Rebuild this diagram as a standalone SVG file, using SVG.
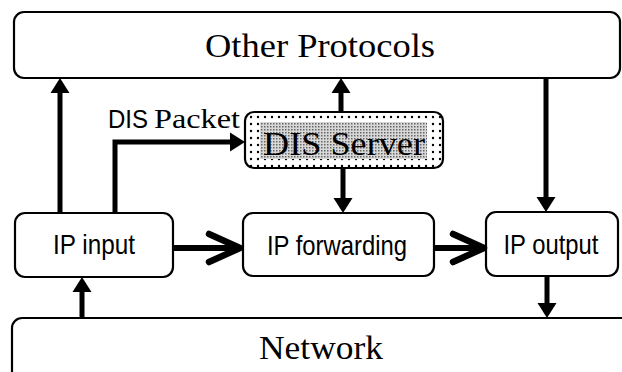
<svg xmlns="http://www.w3.org/2000/svg" width="622" height="372" viewBox="0 0 622 372">
<style>
.box{fill:#fff;stroke:#000;stroke-width:2.2}
.serif{font-family:"Liberation Serif","Times New Roman",serif;fill:#000}
.sans{font-family:"Liberation Sans",Arial,sans-serif;fill:#000}
.lbl{font-family:"Liberation Sans",Arial,sans-serif;font-size:28px;text-anchor:middle;fill:#000}
.big{font-family:"Liberation Serif","Times New Roman",serif;font-size:34px;text-anchor:middle;fill:#000}
.wire{fill:none;stroke:#000;stroke-width:5}
.wire-t{fill:none;stroke:#000;stroke-width:5;marker-end:url(#tri)}
.wire-c{fill:none;stroke:#000;stroke-width:6;marker-end:url(#chev)}
</style>
<defs>
<marker id="tri" markerUnits="userSpaceOnUse" viewBox="0 -10 15 20" refX="0" refY="0" markerWidth="15" markerHeight="20" orient="auto">
<path d="M0,-9.5 L15,0 L0,9.5 z" fill="#000"/>
</marker>
<marker id="chev" markerUnits="userSpaceOnUse" viewBox="-40 -20 44 40" refX="0" refY="0" markerWidth="44" markerHeight="40" orient="auto">
<path d="M-31,-14 L0,0 L-31,14" fill="none" stroke="#000" stroke-width="6.5" stroke-linecap="round" stroke-linejoin="round"/>
</marker>
<pattern id="dots" patternUnits="userSpaceOnUse" x="249" y="115" width="7" height="7">
<circle cx="2" cy="2" r="1.2" fill="#000"/>
</pattern>
<pattern id="half" patternUnits="userSpaceOnUse" width="3" height="3">
<rect width="3" height="3" fill="#d8d8d8"/>
<rect width="1.5" height="1.5" fill="#666"/>
</pattern>
</defs>

<g id="other-protocols">
<rect class="box" x="14" y="12" width="606" height="66" rx="10"/>
<text class="big" x="320" y="57" textLength="230" lengthAdjust="spacingAndGlyphs">Other Protocols</text>
</g>

<g id="network">
<rect class="box" x="12" y="318" width="640" height="90" rx="10"/>
<text class="big" x="321" y="359" textLength="124" lengthAdjust="spacingAndGlyphs">Network</text>
</g>

<g id="dis-server">
<rect x="245" y="112" width="198" height="56" rx="9" fill="#fff" stroke="none"/>
<rect x="245" y="112" width="198" height="56" rx="9" fill="url(#dots)" stroke="#000" stroke-width="2.2"/>
<rect x="260" y="122" width="167" height="37" fill="url(#half)"/>
<text class="big" x="344" y="155" font-size="35" textLength="162" lengthAdjust="spacingAndGlyphs">DIS Server</text>
</g>

<g id="ip-input">
<rect class="box" x="15" y="213" width="158" height="64" rx="10"/>
<text class="lbl" x="94" y="254" textLength="82" lengthAdjust="spacingAndGlyphs">IP input</text>
</g>

<g id="ip-forwarding">
<rect class="box" x="243" y="213" width="191" height="63" rx="10"/>
<text class="lbl" x="337" y="255" textLength="140" lengthAdjust="spacingAndGlyphs">IP forwarding</text>
</g>

<g id="ip-output">
<rect class="box" x="486" y="212" width="132" height="64" rx="10"/>
<text class="lbl" x="551" y="254" textLength="95" lengthAdjust="spacingAndGlyphs">IP output</text>
</g>

<g id="connectors">
<path class="wire-t" d="M60,213 V93"/>
<path class="wire-t" d="M115,213 V142 H230"/>
<text class="sans" x="108" y="128" font-size="25" textLength="40" lengthAdjust="spacingAndGlyphs">DIS</text>
<text class="serif" x="154" y="128" font-size="28" textLength="86" lengthAdjust="spacingAndGlyphs">Packet</text>
<path class="wire-t" d="M341,112 V93"/>
<path class="wire-t" d="M343,168 V198"/>
<path class="wire-t" d="M546,78 V197"/>
<path class="wire-c" d="M173,248 H240"/>
<path class="wire-c" d="M434,248 H484"/>
<path class="wire-t" d="M82,318 V292"/>
<path class="wire-t" d="M547,276 V303"/>
</g>
</svg>
